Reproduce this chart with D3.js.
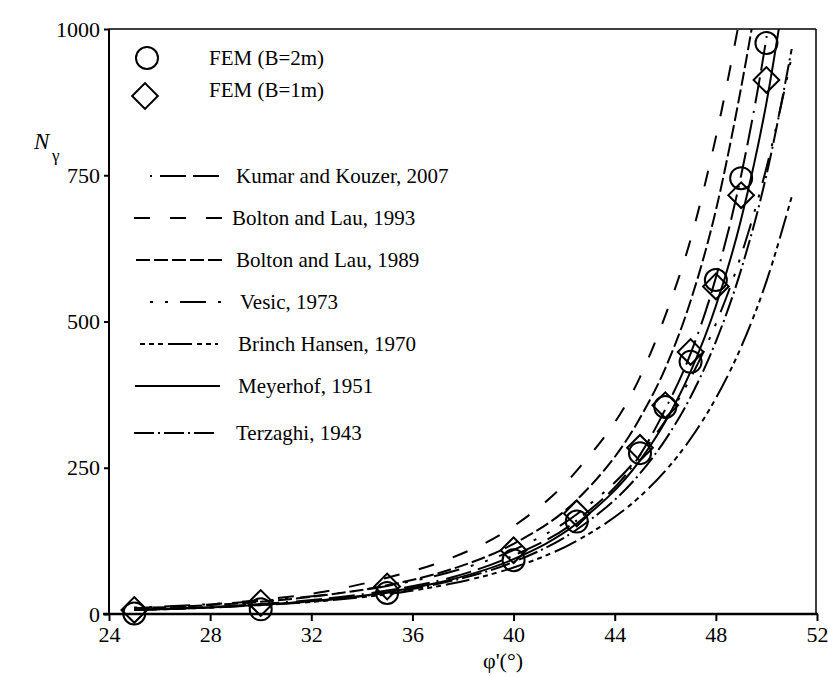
<!DOCTYPE html>
<html><head><meta charset="utf-8">
<script src="https://cdn.jsdelivr.net/npm/d3@7"></script>
<style>
body{margin:0;background:#fff;}
</style></head>
<body><svg id="c" width="828" height="677" font-family="Liberation Serif"></svg>
<script>
// ---- data ----
const phi = [25, 27.5, 30, 32.5, 35, 37.5, 40, 42.5, 45, 46, 47, 48, 49, 50, 51];
const kumar2007   = [7, 11, 17, 26, 40, 62, 100, 160, 272, 350, 445, 575, 750, 985, 1300];
const bolton1993  = [10, 15, 24, 38, 62, 95, 150, 245, 405, 510, 640, 815, 1030, null, null];
const bolton1989  = [10, 14, 21, 32, 49, 76, 120, 195, 335, 420, 535, 690, 900, 1150, null];
const vesic1973   = [10.9, 15.6, 22.4, 32.5, 48.0, 71.8, 109.4, 170.6, 271.7, 330.3, 403.6, 496.0, 613.2, 762.9, 953];
const hansen1970  = [6.8, 10.1, 15.1, 22.4, 33.9, 51.6, 79.5, 125.2, 200.8, 244.6, 299.5, 368.7, 456.4, 568.6, 713.4];
const meyerhof1951= [6.8, 10.3, 15.7, 23.9, 37.2, 58.4, 93.7, 154.6, 262.7, 328.7, 414.3, 526.4, 674.9, 873.8, 1144];
const terzaghi1943= [6.8, 10.3, 15.5, 23.5, 36.2, 56.2, 89.0, 144.4, 240.3, 297.7, 371.0, 465.6, 588.7, 750.3, 966];

const femPhi = [25, 30, 35, 40, 42.5, 45, 46, 47, 48, 49, 50];
const femB2 = [1, 8, 36, 92, 158, 275, 354, 431, 571, 745, 976];
const femB1 = [7, 19, 47, 109, 172, 284, 357, 448, 560, 716, 913];

const xTicks = [24, 28, 32, 36, 40, 44, 48, 52];
const yTicks = [0, 250, 500, 750, 1000];

const seriesNames = ["Kumar and Kouzer, 2007","Bolton and Lau, 1993","Bolton and Lau, 1989","Vesic, 1973","Brinch Hansen, 1970","Meyerhof, 1951","Terzaghi, 1943"];
const seriesValues = [kumar2007, bolton1993, bolton1989, vesic1973, hansen1970, meyerhof1951, terzaghi1943];
const seriesDash = ["2,8,26,7,26,7","16,20","14,4","3,12,3,12,26,12","5,4,5,4,5,5,24,5",null,"20,4,2,4"];

// ---- layout ----
const FONT = "Liberation Serif";
const svg = d3.select("#c");
const L = 109, R = 817, T = 29, B = 614;
const x = d3.scaleLinear().domain([24, 52]).range([L, R]);
const y = d3.scaleLinear().domain([0, 1000]).range([B, T]);

svg.append("clipPath").attr("id","clip").append("rect")
  .attr("x", L).attr("y", T).attr("width", R - L).attr("height", B - T + 3);

// frame
svg.append("line").attr("x1", L).attr("x2", R-1).attr("y1", T).attr("y2", T).attr("stroke","#000").attr("stroke-width",1.5);
svg.append("line").attr("x1", R-1).attr("x2", R-1).attr("y1", T).attr("y2", B).attr("stroke","#000").attr("stroke-width",1.5);

function txt(sel, size) {
  return sel.attr("font-family", FONT).attr("font-size", size);
}

// axes
const xAxis = d3.axisBottom(x).tickValues(xTicks).tickSize(7).tickPadding(5).tickFormat(d3.format("d"));
const gx = svg.append("g").attr("transform", `translate(0,${B})`).call(xAxis);
gx.attr("font-family", FONT).attr("font-size", 22);
gx.select(".domain").attr("stroke-width", 2.5).attr("d", `M${L-6},0H${R+1}`);
gx.selectAll(".tick line").attr("stroke-width", 2);

const yAxis = d3.axisLeft(y).tickValues(yTicks).tickSize(5).tickPadding(4).tickFormat(d3.format("d"));
const gy = svg.append("g").attr("transform", `translate(${L},0)`).call(yAxis);
gy.attr("font-family", FONT).attr("font-size", 22);
gy.select(".domain").attr("stroke-width", 2).attr("d", `M0,${B}V${T}`);
gy.selectAll(".tick line").attr("stroke-width", 2);

// axis titles
txt(svg.append("text"), 22).attr("x", 503).attr("y", 668).attr("text-anchor","middle").text("φ'(°)");
txt(svg.append("text"), 23).attr("x", 34).attr("y", 149).attr("font-style","italic").text("N");
txt(svg.append("text"), 17).attr("x", 52).attr("y", 161).text("γ");

// curves
const line = d3.line().defined(d => d[1] != null).x(d => x(d[0])).y(d => y(d[1])).curve(d3.curveMonotoneX);
const plot = svg.append("g").attr("clip-path","url(#clip)");
seriesValues.forEach((vals, i) => {
  plot.append("path")
    .datum(phi.map((p, j) => [p, vals[j]]))
    .attr("d", line).attr("fill","none").attr("stroke","#000").attr("stroke-width", 2)
    .attr("stroke-dasharray", seriesDash[i]);
});

// markers
svg.append("g").selectAll("circle").data(femPhi.map((p,j)=>[p,femB2[j]])).join("circle")
  .attr("cx", d => x(d[0])).attr("cy", d => y(d[1])).attr("r", 11)
  .attr("fill","none").attr("stroke","#000").attr("stroke-width", 2);
svg.append("g").selectAll("path").data(femPhi.map((p,j)=>[p,femB1[j]])).join("path")
  .attr("d", d3.symbol().type(d3.symbolSquare).size(330))
  .attr("transform", d => `translate(${x(d[0])},${y(d[1])}) rotate(45)`)
  .attr("fill","none").attr("stroke","#000").attr("stroke-width", 2);

// legend
const lg = svg.append("g");
lg.append("circle").attr("cx", 147).attr("cy", 58).attr("r", 11).attr("fill","none").attr("stroke","#000").attr("stroke-width",2);
txt(lg.append("text"), 21).attr("x", 209).attr("y", 65).text("FEM (B=2m)");
lg.append("path").attr("d", d3.symbol().type(d3.symbolSquare).size(330)).attr("transform","translate(145,96) rotate(45)")
  .attr("fill","none").attr("stroke","#000").attr("stroke-width",2);
txt(lg.append("text"), 21).attr("x", 209).attr("y", 97).text("FEM (B=1m)");

const legY = [176, 218, 260, 302, 344, 386, 433];
const legX0 = [150, 134, 136, 150, 140, 135, 134];
const legX1 = [222, 222, 222, 222, 218, 220, 218];
const legTx = [236, 232, 236, 240, 238, 238, 236];
seriesNames.forEach((name, i) => {
  lg.append("line").attr("x1", legX0[i]).attr("x2", legX1[i]).attr("y1", legY[i]).attr("y2", legY[i])
    .attr("stroke","#000").attr("stroke-width",2).attr("stroke-dasharray", seriesDash[i]);
  txt(lg.append("text"), 21).attr("x", legTx[i]).attr("y", legY[i] + 7).text(name);
});
</script></body></html>
